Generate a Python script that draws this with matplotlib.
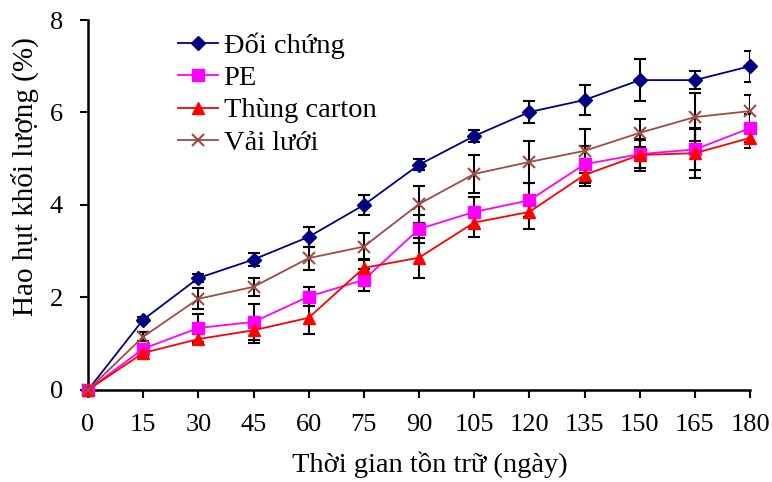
import matplotlib
matplotlib.use("Agg")
import matplotlib.pyplot as plt

plt.rcParams['font.family'] = ['Liberation Serif', 'DejaVu Serif']

days = [0, 15, 30, 45, 60, 75, 90, 105, 120, 135, 150, 165, 180]

doi_chung = [0, 1.52, 2.42, 2.82, 3.31, 4.00, 4.87, 5.49, 6.01, 6.27, 6.70, 6.70, 7.00]
doi_chung_err = [0, 0.06, 0.09, 0.14, 0.21, 0.22, 0.12, 0.13, 0.23, 0.33, 0.45, 0.19, 0.34]

pe = [0, 0.89, 1.34, 1.47, 2.02, 2.38, 3.48, 3.85, 4.10, 4.88, 5.10, 5.20, 5.66]
pe_err = [0, 0.08, 0.30, 0.38, 0.20, 0.23, 0.30, 0.32, 0.37, 0.40, 0.30, 0.44, 0.30]

carton = [0, 0.80, 1.10, 1.29, 1.56, 2.64, 2.86, 3.62, 3.85, 4.65, 5.08, 5.12, 5.45]
carton_err = [0, 0.08, 0.10, 0.28, 0.35, 0.20, 0.43, 0.32, 0.37, 0.24, 0.35, 0.54, 0.22]

vai_luoi = [0, 1.15, 1.97, 2.23, 2.85, 3.10, 4.02, 4.67, 4.93, 5.17, 5.56, 5.90, 6.03]
vai_luoi_err = [0, 0.10, 0.23, 0.20, 0.25, 0.30, 0.40, 0.42, 0.45, 0.47, 0.30, 0.52, 0.35]

series = [
    ("Đối chứng", doi_chung, doi_chung_err, "#000080", "D", 7),
    ("PE", pe, pe_err, "#FF00FF", "s", 8),
    ("Thùng carton", carton, carton_err, "#FF0000", "^", 8.5),
    ("Vải lưới", vai_luoi, vai_luoi_err, "#9E4B45", "x", 8),
]

fig = plt.figure(figsize=(7.72, 4.82), dpi=100)
ax = fig.add_axes([0.114, 0.191, 0.8575, 0.7675])

for label, vals, errs, color, marker, ms in series:
    ax.errorbar(days, vals, yerr=errs, fmt='none', ecolor='black',
                elinewidth=1.5, capsize=4, capthick=1.5, zorder=2)
for label, vals, errs, color, marker, ms in series:
    ax.plot(days, vals, color=color, marker=marker, markersize=ms,
            linewidth=1.3, markeredgewidth=1.5 if marker == 'x' else 1.0,
            markeredgecolor=color, label=label, zorder=3, clip_on=False)

ax.set_xlim(0, 180)
ax.set_ylim(0, 8)
ax.set_xticks(days)
ax.set_yticks([0, 2, 4, 6, 8])
ax.spines['top'].set_visible(False)
ax.spines['right'].set_visible(False)
ax.spines['left'].set_linewidth(1.8)
ax.spines['bottom'].set_linewidth(1.8)
ax.tick_params(axis='both', direction='out', length=6, width=1.5, labelsize=19)
ax.tick_params(axis='x', pad=11)
ax.tick_params(axis='y', pad=12)

ax.set_xlabel("Thời gian tồn trữ (ngày)", fontsize=20.5)
ax.set_ylabel("Hao hụt khối lượng (%)", fontsize=21)
ax.xaxis.set_label_coords(0.516, -0.203)
ax.yaxis.set_label_coords(-0.095, 0.576)
ax.xaxis.label.set_va('center')
ax.yaxis.label.set_va('center')

leg = ax.legend(loc='upper left', bbox_to_anchor=(0.136, 0.966), frameon=False,
                fontsize=20.5, handlelength=1.4, handletextpad=0.2, labelspacing=0.22,
                borderaxespad=0.0, borderpad=0.0)

fig.savefig("out.png", dpi=100)
